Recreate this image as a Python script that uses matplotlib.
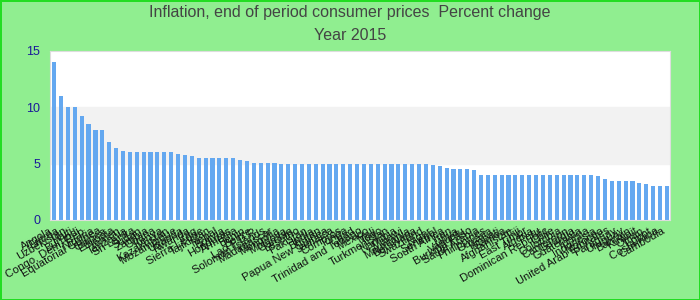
import numpy as np
import matplotlib
matplotlib.use("Agg")
import matplotlib.pyplot as plt

plt.rcParams['font.family'] = ['Liberation Sans', 'DejaVu Sans']

# inflation by country, 2015 (sorted high to low)
countries = ["Angola", "Eritrea", "Uzbekistan", "Haiti", "Burundi",
             "Congo, Dem. Rep.", "Nigeria", "Equatorial Guinea", "Guinea", "Ethiopia",
             "Yemen", "Tanzania", "Sri Lanka", "Sudan", "Zambia",
             "Ghana", "Kenya", "Kazakhstan", "Mozambique", "Uganda",
             "Rwanda", "Iraq", "Sierra Leone", "Tajikistan", "Nepal",
             "Bolivia", "Honduras", "Armenia", "Benin", "Belize",
             "Lao P.D.R.", "Solomon Islands", "Madagascar", "Mongolia", "Moldova",
             "Gambia", "Lesotho", "Pakistan", "India", "Bhutan",
             "Papua New Guinea", "Jamaica", "Comoros", "Tonga", "Chad",
             "Trinidad and Tobago", "Mexico", "Mali", "Togo", "Turkmenistan",
             "Namibia", "Malawi", "Mauritania", "Botswana", "Swaziland",
             "Niger", "Senegal", "South Africa", "Iran", "Libya",
             "Vanuatu", "Burkina Faso", "Saudi Arabia", "Philippines", "Guyana",
             "Kiribati", "Samoa", "Afghanistan", "Fiji", "East Timor",
             "Algeria", "Peru", "Dominican Republic", "Chile", "Colombia",
             "Cameroon", "Georgia", "Guatemala", "Tunisia", "Indonesia",
             "Morocco", "United Arab Emirates", "Paraguay", "Uruguay", "Bahrain",
             "Kuwait", "Oman", "Egypt", "Costa Rica", "Cambodia"]

values = [14.0, 11.0, 10.0, 10.0, 9.2, 8.5, 8.0, 8.0, 6.9, 6.4,
          6.1, 6.0, 6.0, 6.0, 6.0, 6.0, 6.0, 6.0, 5.9, 5.8,
          5.7, 5.5, 5.5, 5.5, 5.5, 5.5, 5.5, 5.3, 5.2, 5.1,
          5.1, 5.1, 5.1, 5.0, 5.0, 5.0, 5.0, 5.0, 5.0, 5.0,
          5.0, 5.0, 5.0, 5.0, 5.0, 5.0, 5.0, 5.0, 5.0, 5.0,
          5.0, 5.0, 5.0, 5.0, 5.0, 4.9, 4.8, 4.6, 4.5, 4.5,
          4.5, 4.4, 4.0, 4.0, 4.0, 4.0, 4.0, 4.0, 4.0, 4.0,
          4.0, 4.0, 4.0, 4.0, 4.0, 4.0, 4.0, 4.0, 4.0, 3.9,
          3.6, 3.5, 3.5, 3.5, 3.5, 3.3, 3.2, 3.0, 3.0, 3.0]

yticks = [0, 5, 10, 15]

fig = plt.figure(figsize=(7, 3), dpi=100)
fig.patch.set_facecolor("#90ee90")
fig.patch.set_edgecolor("#22dd22")
fig.patch.set_linewidth(2)

ax = fig.add_axes([50/700, 80/300, 620/700, 169/300])
ax.set_facecolor("white")
ax.axhspan(5, 10, color="#f2f2f2", zorder=0)

x = np.arange(len(values))
ax.bar(x, values, width=0.6, color="#64a8f0", zorder=2)

ax.set_xlim(-0.6, len(values) - 0.55)
ax.set_ylim(0, 15)
ax.set_yticks(yticks)
ax.set_yticklabels([str(t) for t in yticks], color="#1a1a99", fontsize=9)
ax.set_xticks(x)
ax.set_xticklabels(countries, rotation=30, ha="right", fontsize=8, color="#111111")
ax.tick_params(axis="both", length=0, pad=4)
ax.tick_params(axis="y", pad=7)
for s in ax.spines.values():
    s.set_color("#dddddd")

fig.text(0.5, 0.957, "Inflation, end of period consumer prices  Percent change",
         ha="center", va="center", fontsize=11.5, color="#444444")
fig.text(0.5, 0.88, "Year 2015", ha="center", va="center", fontsize=11.5, color="#444444")

fig.savefig("out.png", dpi=100, facecolor=fig.get_facecolor(), edgecolor=fig.get_edgecolor())
